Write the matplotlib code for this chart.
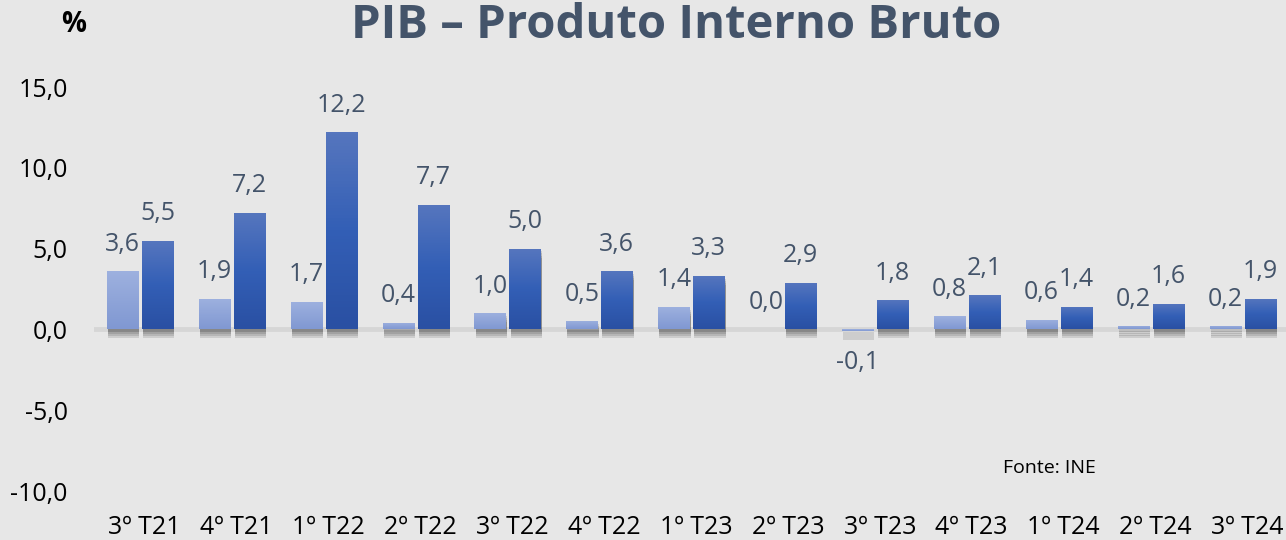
import matplotlib.pyplot as plt
import matplotlib.patheffects as pe
import numpy as np
from matplotlib.colors import LinearSegmentedColormap

quarters = ['3º T21', '4º T21', '1º T22', '2º T22', '3º T22', '4º T22', '1º T23',
            '2º T23', '3º T23', '4º T23', '1º T24', '2º T24', '3º T24']
# variação em cadeia (barras claras) e homóloga (barras escuras)
qoq = [3.6, 1.9, 1.7, 0.4, 1.0, 0.5, 1.4, 0.0, -0.1, 0.8, 0.6, 0.2, 0.2]
yoy = [5.5, 7.2, 12.2, 7.7, 5.0, 3.6, 3.3, 2.9, 1.8, 2.1, 1.4, 1.6, 1.9]
yticks = [-10, -5, 0, 5, 10, 15]

bg = '#E7E7E7'
txt = '#44546A'
plt.rcParams['font.family'] = ['Open Sans', 'DejaVu Sans']

fig = plt.figure(figsize=(12.86, 5.4), dpi=100, facecolor=bg)
ax = fig.add_axes([94 / 1286, 49 / 540, 1 - 94 / 1286, 404 / 540])
ax.set_facecolor(bg)

x = np.arange(len(quarters))
w = 0.34
shadow = [pe.SimplePatchShadow(offset=(0.8, -d), shadow_rgbFace='#202020', alpha=0.13)
          for d in (2, 3.5, 5, 6.5)] + [pe.Normal()]

b1 = ax.bar(x - 0.19, qoq, w, color='#8FA5D8', zorder=3, path_effects=shadow)
b2 = ax.bar(x + 0.19, yoy, w, color='#3A62B4', zorder=3, path_effects=shadow)

cm_light = LinearSegmentedColormap.from_list('l', ['#8098D2', '#9EB1DF'])
cm_dark = LinearSegmentedColormap.from_list('d', ['#2A50A3', '#335FB6', '#5676BE'])
grad = np.linspace(0, 1, 64).reshape(-1, 1)
for bars, cm in ((b1, cm_light), (b2, cm_dark)):
    for r in bars:
        x0, y0 = r.get_x(), r.get_y()
        y1 = y0 + r.get_height()
        im = ax.imshow(grad, cmap=cm, origin='lower', aspect='auto', zorder=3.5,
                       extent=[x0, x0 + r.get_width(), min(y0, y1), max(y0, y1)])
        im.set_clip_path(r)

ax.axhline(0, color='#D6D6D6', lw=3.5, zorder=2)


def fmt(v):
    return f'{v:.1f}'.replace('.', ',')


for bars, vals in ((b1, qoq), (b2, yoy)):
    for r, v in zip(bars, vals):
        cx = r.get_x() + r.get_width() / 2
        dy = 19.5 if v >= 0 else -23
        ax.annotate(fmt(v), (cx, v), xytext=(0, dy), textcoords='offset points',
                    ha='center', va='center', fontsize=18, color=txt)

ax.set_xlim(-0.5, 12.47)
ax.set_ylim(-10, 15)
ax.set_yticks(yticks)
ax.set_yticklabels([fmt(t) for t in yticks], fontsize=18, color='black')
ax.set_xticks(x + 0.05)
ax.set_xticklabels(quarters, fontsize=18, color='black')
ax.tick_params(length=0)
ax.tick_params(axis='y', pad=19)
ax.tick_params(axis='x', pad=17)
for s in ax.spines.values():
    s.set_visible(False)

fig.text(0.526, 1 - 38 / 540, 'PIB – Produto Interno Bruto', ha='center', va='baseline',
         fontsize=34, fontweight='bold', color=txt)
fig.text(74 / 1286, 1 - 24 / 540, '%', ha='center', va='center', fontsize=20,
         fontweight='bold', color='black')
fig.text(1049 / 1286, 1 - 468 / 540, 'Fonte: INE', ha='center', va='center',
         fontsize=14, color='black')

fig.savefig('out.png', dpi=100, facecolor=bg)
